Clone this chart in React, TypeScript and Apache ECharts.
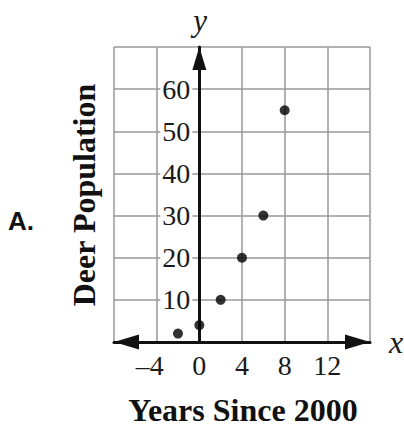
import React, { useEffect, useRef } from 'react';
import * as echarts from 'echarts';

const years = [-2, 0, 2, 4, 6, 8];
const deer = [2, 4, 10, 20, 30, 55];
const xMin = -8;
const xMax = 16;
const xStep = 4;
const yMin = 0;
const yMax = 70;
const yStep = 10;
const xTitle = 'Years Since 2000';
const yTitle = 'Deer Population';
const choiceLabel = 'A.';

const serif = 'Liberation Serif, Times New Roman, serif';

const gridLeft = 114;
const gridRight = 34;
const chartW = 404;

export default function App() {
  const ref = useRef<HTMLDivElement>(null);
  useEffect(() => {
    if (!ref.current) return;
    const chart = echarts.init(ref.current, null, { renderer: 'svg' });
    const points = years.map((x, i) => [x, deer[i]]);
    const plotW = chartW - gridLeft - gridRight;
    const zeroOffset = -(plotW * (0 - xMin)) / (xMax - xMin);
    chart.setOption({
      animation: false,
      grid: { left: gridLeft, right: gridRight, top: 47, bottom: 88 },
      xAxis: [
        {
          type: 'value', min: xMin, max: xMax, interval: xStep, z: 5,
          axisLine: {
            onZero: false,
            lineStyle: { color: '#111', width: 3 },
            symbol: ['triangle', 'triangle'],
            symbolSize: [15, 25],
            symbolOffset: [12.5, -12.5],
          },
          axisTick: { show: false },
          splitLine: { show: false },
          axisLabel: {
            showMinLabel: false, showMaxLabel: false,
            margin: 9, fontFamily: serif, fontSize: 28, color: '#1a1a1a',
            formatter: (v: number) => (v < 0 ? `{neg|\u2013${Math.abs(v)}}` : String(v)),
            rich: { neg: { fontFamily: serif, fontSize: 28, color: '#1a1a1a', padding: [0, 14, 0, 0] } },
          },
        },
        {
          type: 'value', min: xMin, max: xMax, interval: xStep, z: 0,
          axisLine: { show: false }, axisTick: { show: false }, axisLabel: { show: false },
          splitLine: { show: true, lineStyle: { color: '#999', width: 1.5 } },
        },
      ],
      yAxis: [
        {
          type: 'value', min: yMin, max: yMax, interval: yStep, z: 6,
          position: 'left',
          offset: zeroOffset,
          axisLine: {
            onZero: false,
            lineStyle: { color: '#111', width: 3 },
            symbol: ['none', 'triangle'],
            symbolSize: [14, 23],
            symbolOffset: [0, -11.5],
          },
          axisTick: { show: false },
          splitLine: { show: false },
          axisLabel: {
            showMinLabel: false, showMaxLabel: false,
            margin: 7, fontFamily: serif, fontSize: 28, color: '#1a1a1a',
            backgroundColor: '#fff', padding: [0, 2],
          },
        },
        {
          type: 'value', min: yMin, max: yMax, interval: yStep, z: 0,
          axisLine: { show: false }, axisTick: { show: false }, axisLabel: { show: false },
          splitLine: { show: true, lineStyle: { color: '#999', width: 1.5 } },
        },
      ],
      series: [
        {
          type: 'scatter', xAxisIndex: 0, yAxisIndex: 0, z: 10,
          data: points, symbolSize: 10,
          itemStyle: { color: '#000' },
        },
      ],
      graphic: [
        { type: 'text', x: 200, y: 20, z: 20, style: { text: 'y', font: `italic 31px ${serif}`, fill: '#1a1a1a', align: 'center', verticalAlign: 'middle' } },
        { type: 'text', x: 396, y: 342, z: 20, style: { text: 'x', font: `italic 32px ${serif}`, fill: '#1a1a1a', align: 'center', verticalAlign: 'middle' } },
        { type: 'text', x: 243, y: 410, z: 20, style: { text: xTitle, font: `bold 32px ${serif}`, fill: '#111', align: 'center', verticalAlign: 'middle' } },
        { type: 'text', x: 84, y: 195, z: 20, rotation: Math.PI / 2, style: { text: yTitle, font: `bold 32px ${serif}`, fill: '#111', align: 'center', verticalAlign: 'middle' } },
        { type: 'text', x: 8, y: 221, z: 20, style: { text: choiceLabel, font: 'bold 26px Liberation Sans, Arial, sans-serif', fill: '#111', align: 'left', verticalAlign: 'middle' } },
      ],
    });
    return () => chart.dispose();
  }, []);
  return <div ref={ref} style={{ position: 'absolute', left: 0, top: 0, width: 404, height: 430, background: '#fff' }} />;
}
